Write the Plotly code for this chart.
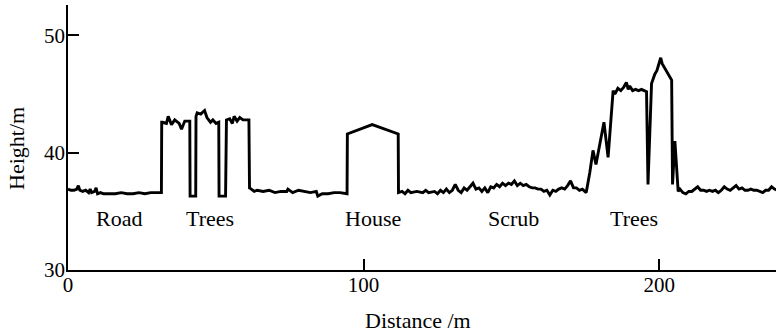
import plotly.graph_objects as go

# ---- data ----
road_x = [0, 1, 2, 3, 3.5, 4, 5, 6, 7, 7.5, 8, 9, 9.5, 10, 11, 12, 14, 16, 18, 20, 22, 24, 26, 28, 30, 31.6]
road_y = [36.9, 36.8, 36.8, 36.9, 37.2, 36.8, 36.7, 36.8, 36.6, 36.9, 36.6, 36.7, 37.0, 36.5, 36.6, 36.5,
          36.5, 36.5, 36.6, 36.5, 36.5, 36.6, 36.5, 36.6, 36.6, 36.6]

trees1_x = [31.7, 32.0, 33.3, 33.9, 35.0, 36.1, 37.6, 38.4, 39.5, 41.2, 41.3, 43.2,
            43.3, 43.7, 44.9, 46.2, 47.0, 48.2, 49.0, 50.1, 51.0, 51.1, 53.3,
            53.4, 53.6, 54.7, 55.6, 56.2, 57.2, 58.1, 59.2, 61.2, 61.4]
trees1_y = [42.6, 42.6, 42.5, 43.1, 42.4, 42.8, 42.5, 42.0, 42.7, 42.7, 36.3, 36.3,
            43.1, 43.4, 43.3, 43.6, 43.0, 42.6, 42.8, 42.5, 42.6, 36.3, 36.3,
            42.6, 42.8, 42.9, 42.5, 43.1, 42.7, 43.0, 42.8, 42.8, 37.0]

field_x = [62, 63, 64, 66, 68, 70, 72, 74, 74.4, 76, 78, 80, 82, 84, 84.5, 86, 88, 90, 92, 94.4]
field_y = [36.9, 36.7, 36.8, 36.7, 36.8, 36.6, 36.7, 36.7, 36.9, 36.6, 36.8, 36.7, 36.6, 36.7, 36.3,
           36.5, 36.5, 36.6, 36.6, 36.5]

house_x = [94.5, 102.9, 111.7, 111.8]
house_y = [41.6, 42.4, 41.6, 36.6]

scrub_x = [113, 114, 115, 116, 118, 120, 121, 122, 124, 125, 126, 127, 128, 129, 130, 131, 132, 133,
           134, 135, 136, 137, 138, 139, 140, 141, 142, 143, 144, 145, 146, 147, 148, 149, 150, 151,
           152, 153, 154, 155, 156, 157, 158, 159, 160, 161, 162, 163, 164, 165, 166, 167, 168, 169,
           170, 171, 172, 173, 174, 175.3]
scrub_y = [36.7, 36.5, 36.8, 36.6, 36.7, 36.6, 36.8, 36.6, 36.7, 36.5, 36.8, 36.6, 36.9, 36.6, 36.8,
           37.3, 36.8, 36.6, 37.0, 36.8, 37.1, 37.4, 36.9, 37.0, 36.7, 37.0, 36.6, 37.1, 37.0, 37.3,
           37.1, 37.4, 37.2, 37.4, 37.3, 37.6, 37.2, 37.4, 37.2, 37.3, 37.1, 37.0, 37.0, 36.9, 36.9,
           36.7, 36.8, 36.4, 36.8, 36.7, 36.9, 37.0, 36.9, 37.2, 37.6, 37.0, 37.0, 36.8, 36.9, 36.6]

trees2_x = [176.5, 177.6, 178.6, 181.3, 182.7, 184.4, 185, 186, 187, 188, 188.9, 189.5, 190, 191,
            192, 193, 194, 195, 195.7, 196.2, 197.4, 198.5, 199.2, 200.5, 201, 204.2, 204.5,
            205.3, 205.8, 206.4]
trees2_y = [38.3, 40.2, 39.0, 42.6, 39.6, 45.3, 45.0, 45.5, 45.3, 45.6, 46.0, 45.4, 45.7, 45.3,
            45.4, 45.3, 45.4, 45.3, 45.2, 37.3, 45.9, 46.7, 47.0, 48.1, 47.6, 46.2, 37.3,
            41.0, 38.5, 36.7]

tail_x = [207, 208, 209, 210, 211, 212, 213, 214, 215, 216, 217, 218, 219, 220, 221, 222, 223, 224,
          225, 226, 227, 228, 229, 230, 231, 232, 233, 234, 235, 236, 237, 238, 239, 240]
tail_y = [36.9, 36.6, 36.5, 36.7, 36.7, 36.9, 37.1, 36.8, 36.8, 36.7, 36.8, 36.7, 36.8, 36.6, 36.8,
          37.1, 36.9, 36.8, 37.0, 37.2, 36.9, 37.0, 36.8, 36.8, 36.9, 36.8, 36.8, 36.7, 36.6, 36.8,
          36.8, 37.1, 36.9, 36.8]

label_text = ["Road", "Trees", "House", "Scrub", "Trees"]
label_x = [17.2, 48.0, 103.1, 150.8, 191.4]
label_y = [34.4, 34.4, 34.4, 34.4, 34.4]

x_ticks = [0, 100, 200]
y_ticks = [30, 40, 50]

distance = road_x + trees1_x + field_x + house_x + scrub_x + trees2_x + tail_x
height = road_y + trees1_y + field_y + house_y + scrub_y + trees2_y + tail_y

FONT = "Liberation Serif, Times New Roman, serif"

fig = go.Figure()
fig.add_trace(go.Scatter(x=distance, y=height, mode="lines",
                         line=dict(color="black", width=2.9), showlegend=False,
                         hoverinfo="skip"))

for t, lx, ly in zip(label_text, label_x, label_y):
    fig.add_annotation(x=lx, y=ly, text=t, showarrow=False,
                       font=dict(family=FONT, size=22, color="black"),
                       xanchor="center", yanchor="middle")

fig.add_annotation(xref="paper", yref="paper", x=-0.072, y=0.457, text="Height/m",
                   textangle=-90, showarrow=False,
                   font=dict(family=FONT, size=22, color="black"),
                   xanchor="center", yanchor="middle")
fig.add_annotation(xref="paper", yref="paper", x=0.494, y=-0.246, text="Distance /m",
                   showarrow=False, font=dict(family=FONT, size=22, color="black"),
                   xanchor="center", yanchor="bottom")

fig.update_xaxes(range=[0, 239.5], tickvals=x_ticks, ticks="inside", ticklen=11,
                 tickwidth=1.5, tickcolor="black", showline=True, linecolor="black",
                 linewidth=1.5, showgrid=False, zeroline=False, ticklabelstandoff=-5,
                 tickfont=dict(family=FONT, size=21, color="black"))
fig.update_yaxes(range=[30, 52.6], tickvals=y_ticks, ticks="inside", ticklen=11,
                 tickwidth=1.5, tickcolor="black", showline=True, linecolor="black",
                 linewidth=1.5, showgrid=False, zeroline=False, ticklabelstandoff=-3,
                 tickfont=dict(family=FONT, size=21, color="black"))

fig.update_layout(width=776, height=333, margin=dict(l=68, r=0, t=5, b=63),
                  plot_bgcolor="white", paper_bgcolor="white",
                  font=dict(family=FONT, color="black"))

fig.write_html("out.html")
